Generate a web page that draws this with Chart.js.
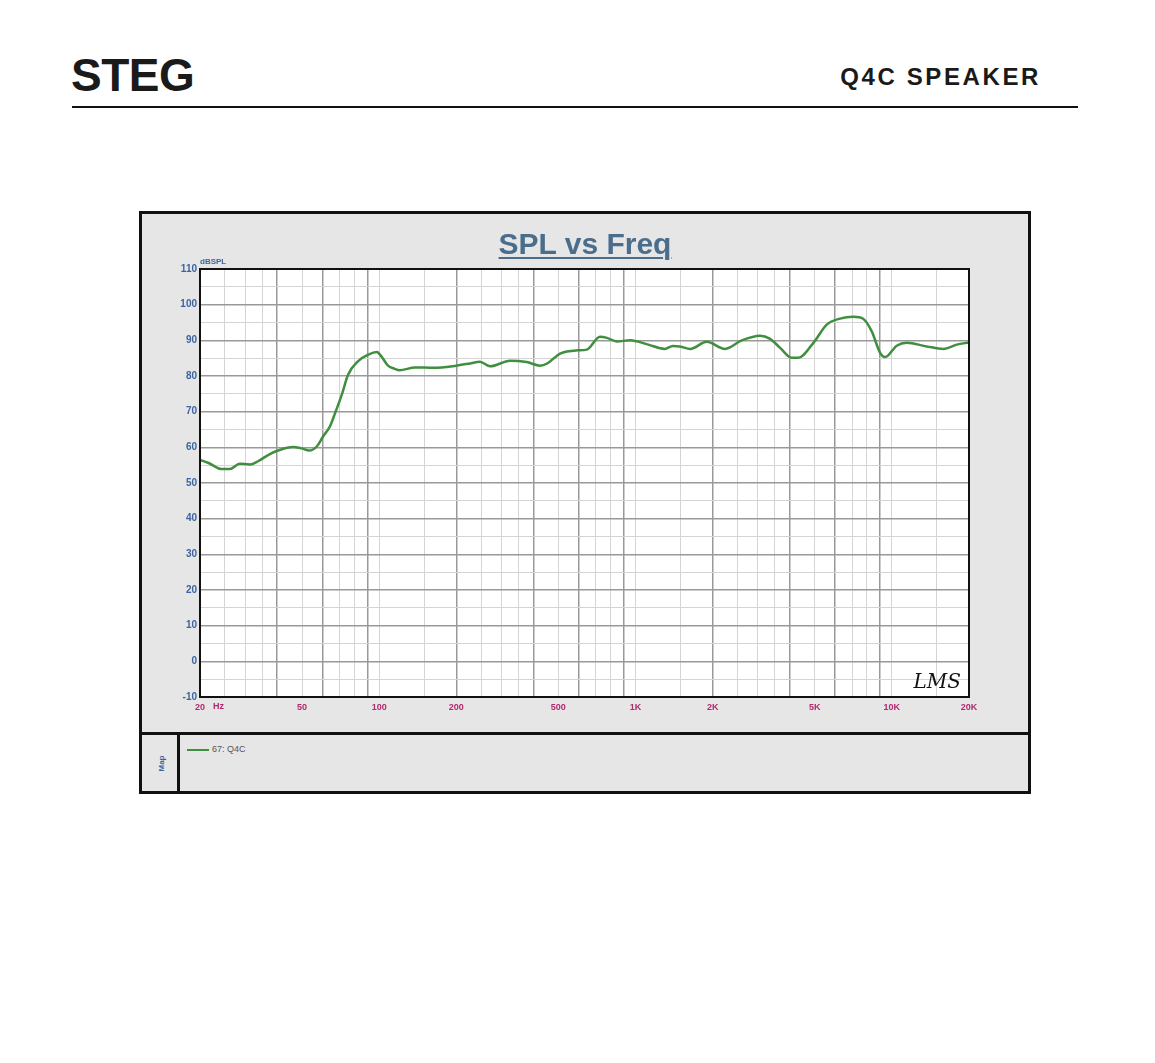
<html>
<head>
	<title>Q4C Speaker - SPL vs Freq</title>
	<meta name="viewport" content="width=device-width, initial-scale=1">
	<style>
		body { margin: 0; background: #fff; font-family: "Liberation Sans", Arial, sans-serif; }
		#page { position: relative; width: 1155px; height: 1063px; }
		#logo { position: absolute; left: 71px; top: 48px; font-size: 46px; font-weight: bold; color: #1a1a1a; letter-spacing: -0.5px; }
		#model { position: absolute; right: 114px; top: 63px; font-size: 24px; font-weight: bold; color: #1a1a1a; letter-spacing: 2.6px; }
		#rule { position: absolute; left: 72px; top: 106px; width: 1006px; height: 2px; background: #111; }
		#panel { position: absolute; left: 139px; top: 211px; width: 886px; height: 577px; background: #e6e6e6; border: 3px solid #111; }
		#title { position: absolute; left: 0; width: 100%; top: 13px; text-align: center; font-size: 30px; font-weight: bold; color: #4a6d8c; text-decoration: underline; text-decoration-thickness: 2px; text-underline-offset: 3px; }
		#plot { position: absolute; left: 1px; top: 1px; width: 884px; height: 515px; }
		#legendbox { position: absolute; left: 0; top: 518px; width: 886px; height: 59px; border-top: 3px solid #111; }
		#mapcol { position: absolute; left: 0; top: 0; width: 35px; height: 59px; border-right: 3px solid #111; }
		#maplabel { position: absolute; left: 4px; top: 24px; width: 30px; text-align: center; transform: rotate(-90deg); font-size: 8px; font-weight: bold; color: #3c64a0; }
		#legend { position: absolute; left: 45px; top: 9px; font-size: 9px; color: #555; }
		#legend span.swatch { display: inline-block; width: 22px; height: 2px; vertical-align: middle; margin-right: 3px; }
	</style>
</head>
<body>
<div id="page">
	<div id="logo">STEG</div>
	<div id="model">Q4C SPEAKER</div>
	<div id="rule"></div>
	<div id="panel">
		<div id="plot"><canvas id="spl-chart"></canvas></div>
		<div id="title">SPL vs Freq</div>
		<div id="legendbox">
			<div id="mapcol"><div id="maplabel">Map</div></div>
			<div id="legend"></div>
		</div>
	</div>
</div>
<script src="https://cdn.jsdelivr.net/npm/chart.js"></script>
<script>
	// frequency response
	const freqHz = [20, 21.6, 24.3, 26.1, 28.6, 31.3, 33.7, 37, 40.3, 46.1, 49.8, 53.4, 57.2, 60.5, 64.3, 67.3, 71.5, 75.7, 82.6, 90.8, 97.9, 102, 108, 115, 120, 138, 163, 200, 226, 247, 271, 324, 376, 424, 452, 508, 593, 645, 727, 774, 845, 953, 1013, 1122, 1300, 1400, 1491, 1634, 1897, 2235, 2597, 3062, 3350, 3666, 4070, 4320, 4944, 5572, 6281, 7080, 7748, 8350, 9000, 9420, 10450, 11430, 13680, 15890, 17920, 20000];
	const splDb = [56.5, 55.6, 53.9, 53.9, 55.4, 55.2, 56.1, 57.9, 59.1, 60.1, 59.7, 59.1, 60.3, 63.1, 65.9, 69.6, 74.8, 80.4, 84.1, 86.0, 86.7, 85.5, 83.0, 82.0, 81.6, 82.4, 82.3, 82.9, 83.5, 84.0, 82.7, 84.3, 83.9, 82.9, 83.5, 86.3, 87.2, 87.4, 91.0, 90.7, 89.7, 90.0, 89.7, 88.8, 87.6, 88.4, 88.3, 87.6, 89.6, 87.6, 90.0, 91.3, 90.4, 87.9, 85.1, 85.1, 89.3, 94.4, 96.1, 96.6, 96.0, 92.5, 86.5, 85.3, 88.5, 89.3, 88.3, 87.6, 88.8, 89.4];
	const seriesName = '67: Q4C';

	// axis labels
	const xTickLabels = { 20: '20', 50: '50', 100: '100', 200: '200', 500: '500', 1000: '1K', 2000: '2K', 5000: '5K', 10000: '10K', 20000: '20K' };
	const yMin = -10, yMax = 110;

	// vertical grid: these steps in every decade
	const gridSteps = [1, 1.5, 2, 2.5, 3, 3.5, 4, 5, 6, 7, 8, 9];
	const darkSteps = [2, 4, 6, 9];
	var xGrid = [];
	[10, 100, 1000, 10000].forEach(dec => {
		gridSteps.forEach(s => {
			let v = Math.round(s * dec);
			if (v >= 20 && v <= 20000) xGrid.push(v);
		});
	});
	if (xGrid.indexOf(20000) < 0) xGrid.push(20000);

	function stepOf(v) {
		let dec = Math.pow(10, Math.floor(Math.log10(v) + 1e-9));
		return Math.round(v / dec * 10) / 10;
	}

	const green = '#3f8f3f';

	const extras = {
		id: 'extras',
		beforeDraw(chart) {
			const c = chart.ctx, a = chart.chartArea;
			c.save();
			c.fillStyle = '#ffffff';
			c.fillRect(a.left, a.top, a.right - a.left, a.bottom - a.top);
			c.restore();
		},
		afterDraw(chart) {
			const c = chart.ctx, a = chart.chartArea;
			c.save();
			c.strokeStyle = '#111';
			c.lineWidth = 2;
			c.strokeRect(a.left, a.top, a.right - a.left, a.bottom - a.top);
			c.fillStyle = '#3c64a0';
			c.font = 'bold 8px "Liberation Sans", Arial, sans-serif';
			c.textAlign = 'left';
			c.textBaseline = 'bottom';
			c.fillText('dBSPL', a.left, a.top - 3);
			c.fillStyle = '#b4286e';
			c.textBaseline = 'top';
			c.font = 'bold 9px "Liberation Sans", Arial, sans-serif';
			c.fillText('Hz', a.left + 13, a.bottom + 5);
			c.fillStyle = '#111';
			c.font = 'italic 20px "DejaVu Serif", serif';
			c.textAlign = 'right';
			c.textBaseline = 'alphabetic';
			c.fillText('LMS', a.right - 8, a.bottom - 9);
			c.restore();
		}
	};

	const chartopts = {
		type: 'line',
		data: {
			datasets: [{
				label: seriesName,
				data: freqHz.map((f, i) => ({ x: f, y: splDb[i] })),
				borderColor: green,
				borderWidth: 2.5,
				pointRadius: 0,
				cubicInterpolationMode: 'monotone',
				fill: false
			}]
		},
		options: {
			responsive: true,
			maintainAspectRatio: false,
			animation: false,
			layout: { padding: { left: 0, top: 54, right: 58, bottom: 0 } },
			plugins: {
				legend: { display: false },
				tooltip: { enabled: false }
			},
			scales: {
				x: {
					type: 'logarithmic',
					min: 20,
					max: 20000,
					afterBuildTicks: scale => { scale.ticks = xGrid.map(v => ({ value: v })); },
					afterFit: scale => { scale.height = 33; },
					border: { display: false },
					grid: {
						drawTicks: false,
						color: ctx => darkSteps.indexOf(stepOf(ctx.tick.value)) >= 0 ? '#999999' : '#d4d4d4',
						lineWidth: ctx => darkSteps.indexOf(stepOf(ctx.tick.value)) >= 0 ? 1.5 : 1
					},
					ticks: {
						autoSkip: false,
						maxRotation: 0,
						padding: 5,
						color: '#b4286e',
						font: { family: '"Liberation Sans", Arial, sans-serif', size: 9, weight: 'bold' },
						callback: v => xTickLabels[v] || ''
					}
				},
				y: {
					min: yMin,
					max: yMax,
					afterFit: scale => { scale.width = 57; },
					border: { display: false },
					grid: {
						drawTicks: false,
						color: ctx => ctx.tick.value % 10 === 0 ? '#999999' : '#d4d4d4',
						lineWidth: ctx => ctx.tick.value % 10 === 0 ? 1.5 : 1
					},
					ticks: {
						stepSize: 5,
						padding: 3,
						color: '#3c64a0',
						font: { family: '"Liberation Sans", Arial, sans-serif', size: 10, weight: 'bold' },
						callback: v => v % 10 === 0 ? String(v) : ''
					}
				}
			}
		},
		plugins: [extras]
	};

	const chart = new Chart(document.getElementById('spl-chart'), chartopts);

	const ds = chart.data.datasets[0];
	document.getElementById('legend').innerHTML =
		`<span class="swatch" style="background:${ds.borderColor}"></span>${ds.label}`;
</script>
</body>
</html>
